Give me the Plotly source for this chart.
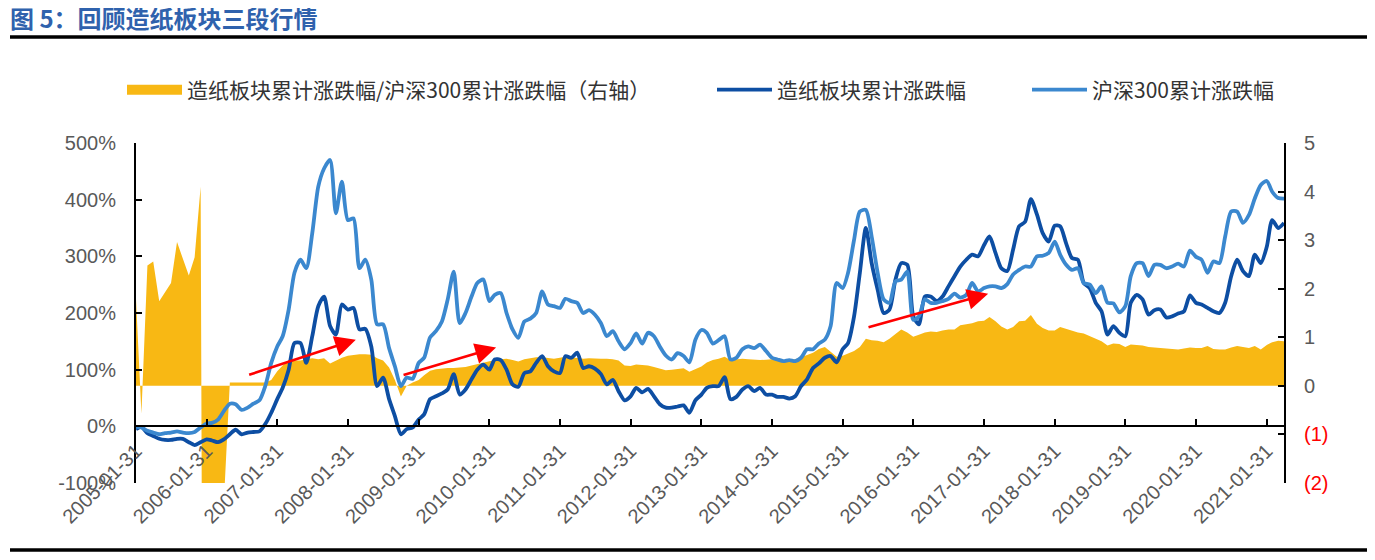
import pandas as pd
import plotly.graph_objects as go

# 月末日期 2005-01-31 ~ 2021-04-30
DATES = pd.date_range("2005-01-01", periods=196, freq="MS") + pd.offsets.MonthEnd(0)

# 造纸板块累计涨跌幅/沪深300累计涨跌幅（右轴）
RATIO = [
    1.79, -0.57, 2.48, 2.56, 1.74, 1.92, 2.12, 2.96, 2.61, 2.27, 2.65, 4.10,
    -30, -12, -6, -2.4, 0.07, 0.07, 0.07, 0.07, 0.07, 0.07, 0.07, 0.12,
    0.30, 0.42, 0.52, 0.52, 0.52, 0.55, 0.57, 0.55, 0.57, 0.46, 0.52, 0.58,
    0.62, 0.64, 0.65, 0.65, 0.64, 0.57, 0.52, 0.38, 0.12, -0.22, 0.0, 0.07,
    0.12, 0.22, 0.31, 0.34, 0.36, 0.37, 0.37, 0.38, 0.39, 0.42, 0.45, 0.47,
    0.51, 0.53, 0.55, 0.56, 0.53, 0.50, 0.55, 0.57, 0.59, 0.59, 0.57, 0.56,
    0.58, 0.60, 0.59, 0.57, 0.56, 0.57, 0.56, 0.56, 0.56, 0.55, 0.52, 0.42,
    0.41, 0.44, 0.43, 0.42, 0.39, 0.36, 0.32, 0.33, 0.34, 0.36, 0.29, 0.35,
    0.40, 0.48, 0.53, 0.56, 0.60, 0.53, 0.54, 0.56, 0.55, 0.54, 0.53, 0.54,
    0.55, 0.53, 0.51, 0.53, 0.55, 0.59, 0.63, 0.68, 0.76, 0.80, 0.70, 0.60,
    0.62, 0.66, 0.72, 0.80, 0.97, 0.94, 0.93, 0.90, 0.97, 1.07, 1.16, 1.10,
    1.01, 1.05, 1.10, 1.12, 1.11, 1.14, 1.16, 1.16, 1.25, 1.27, 1.29, 1.33,
    1.34, 1.42, 1.33, 1.22, 1.16, 1.21, 1.33, 1.34, 1.46, 1.28, 1.19, 1.14,
    1.14, 1.21, 1.17, 1.13, 1.10, 1.08, 1.03, 0.98, 0.92, 0.83, 0.87, 0.86,
    0.80, 0.85, 0.84, 0.83, 0.80, 0.79, 0.77, 0.76, 0.75, 0.75, 0.77, 0.79,
    0.78, 0.78, 0.82, 0.76, 0.75, 0.75, 0.79, 0.82, 0.80, 0.78, 0.82, 0.75,
    0.84, 0.90, 0.93, 0.92,
]

# 造纸板块累计涨跌幅（%）
PAPER = [
    -5, -1, -12, -17, -22, -24, -24, -22, -22, -28, -33, -28,
    -23, -25, -28, -23, -14, -6, -14, -11, -10, -9, 4, 24,
    48, 68, 100, 147, 147, 112, 159, 212, 229, 177, 162, 215,
    206, 209, 171, 172, 141, 71, 86, 48, 18, -14, -5, -2,
    12, 21, 48, 53, 58, 65, 92, 56, 65, 83, 100, 109,
    100, 118, 117, 100, 74, 70, 94, 97, 112, 124, 106, 97,
    94, 124, 121, 130, 103, 106, 102, 92, 74, 82, 62, 46,
    53, 68, 60, 66, 53, 39, 33, 33, 35, 37, 24, 46,
    56, 68, 71, 71, 87, 48, 52, 65, 71, 62, 68, 56,
    56, 52, 52, 49, 53, 71, 83, 103, 111, 121, 124, 113,
    136, 147, 194, 271, 350, 288, 241, 200, 206, 259, 288, 285,
    194, 180, 229, 229, 221, 229, 247, 265, 282, 294, 303, 300,
    320, 335, 306, 279, 274, 312, 353, 361, 401, 374, 341, 326,
    354, 353, 323, 297, 294, 253, 244, 218, 203, 162, 177, 165,
    159, 218, 232, 224, 197, 205, 206, 192, 194, 199, 203, 231,
    218, 215, 209, 203, 200, 218, 265, 294, 274, 265, 303, 288,
    317, 364, 350, 359,
]

# 沪深300累计涨跌幅（%）
HS300 = [
    -1, -2, -8, -11, -14, -12, -11, -9, -11, -12, -10, -2,
    5, 6, 12, 27, 40, 39, 29, 33, 40, 46, 71, 112,
    141, 159, 206, 271, 294, 279, 341, 423, 455, 470, 376, 432,
    364, 367, 279, 294, 259, 180, 180, 138, 106, 71, 86, 84,
    112, 121, 157, 168, 185, 224, 273, 182, 200, 229, 253, 259,
    221, 232, 235, 200, 171, 156, 185, 190, 200, 238, 215, 212,
    209, 225, 221, 218, 200, 205, 197, 182, 159, 168, 150, 136,
    147, 164, 146, 165, 159, 141, 125, 118, 129, 124, 113, 153,
    170, 165, 146, 152, 159, 118, 121, 136, 141, 138, 144, 133,
    121, 118, 115, 117, 115, 121, 136, 136, 146, 153, 177, 253,
    244, 271, 329, 379, 382, 335, 271, 224, 218, 256, 259, 273,
    188, 194, 224, 218, 218, 221, 225, 234, 227, 232, 253, 238,
    244, 247, 247, 244, 251, 268, 276, 282, 282, 300, 301, 306,
    326, 303, 285, 276, 279, 253, 250, 235, 247, 218, 217, 201,
    212, 265, 288, 288, 265, 285, 285, 279, 282, 287, 282, 310,
    299, 294, 271, 291, 288, 335, 379, 379, 359, 373, 402, 426,
    433, 414, 403, 402,
]

X_TICKS = [f"{y}-01-31" for y in range(2005, 2022)]
LEFT_TICKS = [-100, 0, 100, 200, 300, 400, 500]
LEFT_TEXT = [f"{v}%" for v in LEFT_TICKS]
RIGHT_TICKS = [-2, -1, 0, 1, 2, 3, 4, 5]
RIGHT_TEXT = ['<span style="color:#FF0000">(2)</span>', '<span style="color:#FF0000">(1)</span>',
              "0", "1", "2", "3", "4", "5"]

# 红色箭头：(起点日期, 起点%, 终点日期, 终点%)
ARROWS = [
    ("2006-08-31", 90, "2008-03-12", 153),
    ("2008-11-06", 90, "2010-03-07", 139),
    ("2015-06-06", 174, "2017-02-21", 234),
]

YELLOW = "#F8B814"
DARK = "#0D4EA3"
LIGHT = "#3B88CF"
GRAY = "#595959"

# 页面 body 有 8px 边距，图按屏幕像素减 8 来排
OFF = 8
W, H = 1375 - OFF, 560 - OFF
# 绘图区在屏幕上的像素位置
L, R, T, B = 136, 1284, 143, 483


def px_x(p):
    return (p - L) / (R - L)


def px_y(p):
    return (B - p) / (B - T)


fig = go.Figure()

fig.add_trace(go.Scatter(
    x=DATES, y=RATIO, mode="lines", line=dict(width=0, color=YELLOW),
    fill="tozeroy", fillcolor=YELLOW, yaxis="y", showlegend=False,
))
# 图例用的色块（只占图例位置，不画数据）
fig.add_trace(go.Scatter(
    x=[None], y=[None], name="造纸板块累计涨跌幅/沪深300累计涨跌幅（右轴）",
    mode="lines", line=dict(width=18, color=YELLOW), yaxis="y",
    legend="legend", showlegend=True,
))
fig.add_trace(go.Scatter(
    x=DATES, y=PAPER, name="造纸板块累计涨跌幅", mode="lines",
    line=dict(color=DARK, width=3.8, shape="spline", smoothing=0.7),
    yaxis="y2", legend="legend2", showlegend=True,
))
fig.add_trace(go.Scatter(
    x=DATES, y=HS300, name="沪深300累计涨跌幅", mode="lines",
    line=dict(color=LIGHT, width=3.8, shape="spline", smoothing=0.7),
    yaxis="y2", legend="legend3", showlegend=True,
))

for x0, y0, x1, y1 in ARROWS:
    fig.add_annotation(
        x=x1, y=y1, ax=x0, ay=y0, xref="x", yref="y2", axref="x", ayref="y2",
        showarrow=True, arrowhead=2, arrowsize=1.6, arrowwidth=2.6,
        arrowcolor="#FF0000", text="",
    )

tick_font = dict(family="Liberation Sans, Arial, sans-serif", size=20, color=GRAY)
leg_font = dict(family="Noto Sans CJK SC, sans-serif", size=21, color="#333333")


def leg(x):
    return dict(x=px_x(x), y=px_y(90), xanchor="left", yanchor="middle",
                orientation="h", font=leg_font, bgcolor="rgba(0,0,0,0)", itemwidth=55)


fig.update_layout(
    width=W, height=H, template="none", showlegend=True,
    paper_bgcolor="white", plot_bgcolor="white",
    margin=dict(l=L - OFF, r=W - (R - OFF), t=T - OFF, b=H - (B - OFF), autoexpand=False),
    title=dict(
        text="<b>图 5：回顾造纸板块三段行情</b>", xref="container", yref="container",
        x=(10 - OFF) / W, xanchor="left", y=1 - 3 / H, yanchor="top",
        font=dict(family="Noto Sans CJK SC, sans-serif", size=24, color="#2F62AD"),
    ),
    xaxis=dict(
        type="date", range=[DATES[0], DATES[-1]], anchor="free", position=1 / 6,
        tickvals=X_TICKS, ticktext=X_TICKS, tickangle=-45, tickfont=tick_font,
        ticklabelstandoff=4,
        showline=True, linecolor="black", linewidth=2, ticks="inside", ticklen=6,
        tickwidth=2, tickcolor="black", showgrid=False, zeroline=False,
    ),
    yaxis=dict(
        range=[-2, 5], side="right", tickvals=RIGHT_TICKS, ticktext=RIGHT_TEXT,
        tickfont=tick_font, showline=True, linecolor="black", linewidth=2,
        ticks="inside", ticklen=6, tickwidth=2, tickcolor="black",
        showgrid=False, zeroline=False, ticklabelstandoff=14,
    ),
    yaxis2=dict(
        range=[-100, 500], side="left", overlaying="y", anchor="x",
        tickvals=LEFT_TICKS, ticktext=LEFT_TEXT, tickfont=tick_font,
        showline=True, linecolor="black", linewidth=2, ticks="inside",
        ticklen=6, tickwidth=2, tickcolor="black", showgrid=False,
        zeroline=False, ticklabelstandoff=14,
    ),
    legend=leg(122),
    legend2=leg(712),
    legend3=leg(1027),
    shapes=[
        dict(type="line", xref="paper", yref="paper", x0=px_x(10), x1=px_x(1368),
             y0=px_y(37), y1=px_y(37), line=dict(color="black", width=3.5)),
        dict(type="line", xref="paper", yref="paper", x0=px_x(10), x1=px_x(1368),
             y0=px_y(550), y1=px_y(550), line=dict(color="black", width=3.5)),
    ],
)

fig.write_html("out.html")
